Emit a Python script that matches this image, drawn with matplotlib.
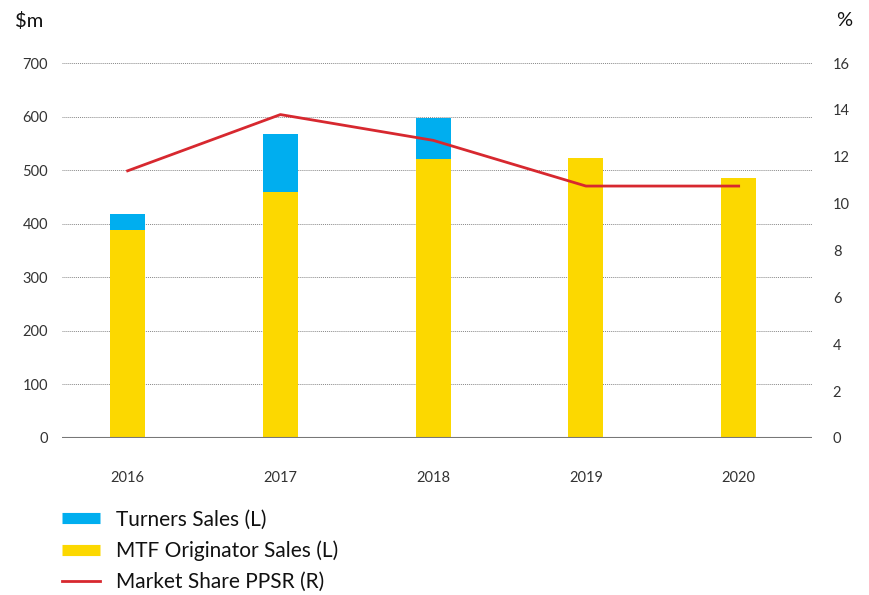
import numpy as np
import matplotlib.pyplot as plt
from matplotlib.lines import Line2D

# data
years = ['2016', '2017', '2018', '2019', '2020']
mtf_sales = [388, 459, 521, 523, 485]       # $m, yellow
turners_sales = [30, 108, 76, 0, 0]          # $m, blue stacked on top
market_share = [11.4, 13.8, 12.7, 10.75, 10.75]  # %, right axis

blue = '#00AEEF'
yellow = '#FCD800'
red = '#D7282F'
txt = '#333333'

plt.rcParams['font.family'] = ['Lato', 'DejaVu Sans']

fig = plt.figure(figsize=(8.69, 5.95), dpi=100)
ax = fig.add_axes([0.0713, 0.2639, 0.8631, 0.6302])
ax2 = ax.twinx()

x = np.arange(len(years))
w = 0.23
ax.bar(x, mtf_sales, width=w, color=yellow, zorder=3)
ax.bar(x, turners_sales, width=w, bottom=mtf_sales, color=blue, zorder=3)
ax2.plot(x, market_share, color=red, lw=2, zorder=4)

ax.set_xlim(-0.43, 4.48)
ax.set_ylim(0, 700)
ax2.set_ylim(0, 16)
ax.set_yticks(range(0, 701, 100))
ax2.set_yticks(range(0, 17, 2))
ax.set_xticks(x)
ax.set_xticklabels(years)

# dotted gridlines
for v in range(100, 701, 100):
    ax.axhline(v, color='#888888', lw=0.7, ls=(0, (1, 1)), zorder=1)
ax.axhline(0, color='#777777', lw=1.5, zorder=5)

for a in (ax, ax2):
    for s in a.spines.values():
        s.set_visible(False)
    a.tick_params(length=0, labelsize=10.5, labelcolor=txt)
ax.tick_params(axis='y', pad=10)
ax.tick_params(axis='x', pad=24)
ax2.tick_params(axis='y', pad=15)

fig.text(0.017, 0.965, '$m', fontsize=14.5, color='#111111', va='center', ha='left')
fig.text(0.962, 0.965, '%', fontsize=14.5, color='#111111', va='center', ha='left')

handles = [
    Line2D([], [], color=blue, lw=8, solid_capstyle='butt'),
    Line2D([], [], color=yellow, lw=8, solid_capstyle='butt'),
    Line2D([], [], color=red, lw=2),
]
labels = ['Turners Sales (L)', 'MTF Originator Sales (L)', 'Market Share PPSR (R)']
fig.legend(handles, labels, loc='upper left', bbox_to_anchor=(0.059, 0.161),
           frameon=False, fontsize=15, handlelength=1.85, handletextpad=0.75,
           labelspacing=0.52, labelcolor='#111111', borderpad=0)

fig.savefig('out.png', dpi=100)
